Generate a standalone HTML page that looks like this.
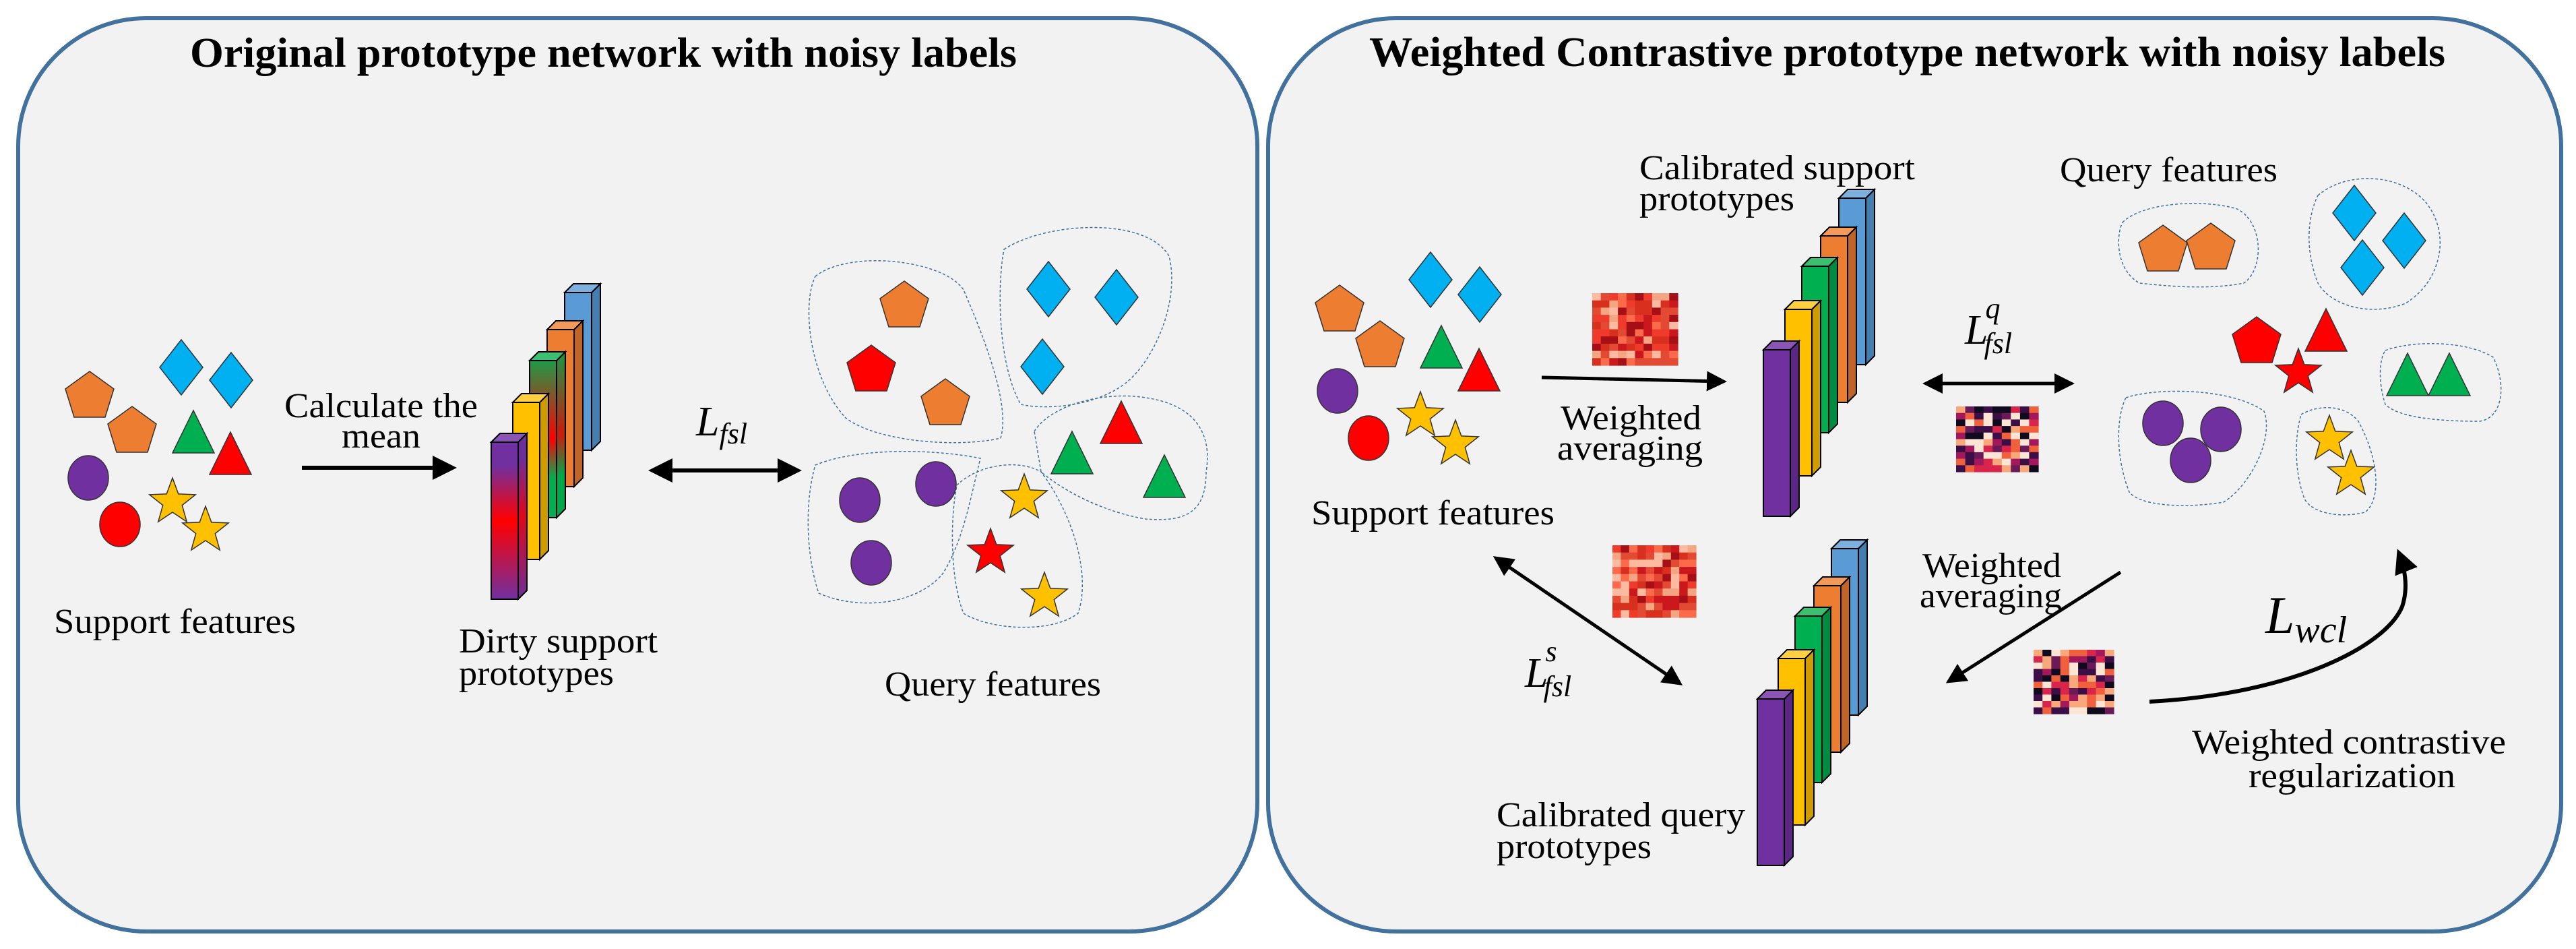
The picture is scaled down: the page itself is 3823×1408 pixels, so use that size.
<!DOCTYPE html>
<html><head><meta charset="utf-8"><style>
html,body{margin:0;padding:0;background:#fff;}
svg{display:block;}
svg text{font-family:"Liberation Serif","DejaVu Serif",serif !important;fill:#000;}
.lb{font-size:52px;}
.tt{font-size:62px;font-weight:bold;}
.mi{font-style:italic;}
</style></head><body>
<svg id="s" width="3823" height="1408" viewBox="0 0 3823 1408" xmlns="http://www.w3.org/2000/svg" font-family="Liberation Serif, serif">
<defs>
<polygon id="pent" points="0,-36 36,-10 23,32 -23,32 -36,-10" stroke="#333" stroke-width="1.5"/>
<polygon id="dia" points="0,-41 32,0 0,41 -32,0" stroke="#333" stroke-width="1.5"/>
<polygon id="tri" points="0,-34 31,29 -31,29" stroke="#333" stroke-width="1.5"/>
<ellipse id="ell" cx="0" cy="0" rx="30" ry="33" stroke="#333" stroke-width="1.5"/>
<polygon id="star" points="0,-36 8.8,-12.1 34.2,-11.1 14.3,4.6 21.2,29.1 0,15 -21.2,29.1 -14.3,4.6 -34.2,-11.1 -8.8,-12.1" stroke="#333" stroke-width="1.5"/>
<marker id="ah" markerWidth="6" markerHeight="6" refX="5" refY="3" orient="auto" markerUnits="strokeWidth"><path d="M0,0 L6,3 L0,6 z" fill="#000"/></marker>
<marker id="ahs" markerWidth="6" markerHeight="6" refX="1" refY="3" orient="auto" markerUnits="strokeWidth"><path d="M6,0 L0,3 L6,6 z" fill="#000"/></marker>
<linearGradient id="gp" x1="0" y1="0" x2="0" y2="1"><stop offset="0" stop-color="#7030A0"/><stop offset="0.15" stop-color="#7030A0"/><stop offset="0.5" stop-color="#FF0000"/><stop offset="1" stop-color="#7030A0"/></linearGradient>
<linearGradient id="gg" x1="0" y1="0" x2="0" y2="1"><stop offset="0" stop-color="#1e9a48"/><stop offset="0.5" stop-color="#FF0000"/><stop offset="0.75" stop-color="#00B050"/><stop offset="1" stop-color="#00B050"/></linearGradient>
</defs>
<rect x="27" y="27" width="1839" height="1355" rx="190" fill="#f2f2f2" stroke="#41719c" stroke-width="6"/>
<rect x="1882" y="27" width="1919" height="1355" rx="190" fill="#f2f2f2" stroke="#41719c" stroke-width="6"/>
<text class="tt" x="282" y="99" textLength="1227" lengthAdjust="spacingAndGlyphs">Original prototype network with noisy labels</text>
<text class="tt" x="2032" y="98" textLength="1597" lengthAdjust="spacingAndGlyphs">Weighted Contrastive prototype network with noisy labels</text>

<use href="#pent" x="133" y="587" fill="#ED7D31"/>
<use href="#pent" x="196" y="639" fill="#ED7D31"/>
<use href="#dia" x="269" y="545" fill="#00B0F0"/>
<use href="#dia" x="343" y="564" fill="#00B0F0"/>
<use href="#tri" x="287" y="643" fill="#00B050"/>
<use href="#tri" x="342" y="675" fill="#FF0000"/>
<use href="#ell" x="131" y="709" fill="#7030A0"/>
<use href="#ell" x="178" y="778" fill="#FF0000"/>
<use href="#star" x="256" y="745" fill="#FFC000"/>
<use href="#star" x="305" y="787" fill="#FFC000"/>
<text class="lb" x="80" y="939" textLength="359" lengthAdjust="spacingAndGlyphs">Support features</text>
<line x1="448" y1="694" x2="672" y2="694" stroke="#000" stroke-width="6" marker-end="url(#ah)"/>
<text class="lb" x="422" y="619" textLength="287" lengthAdjust="spacingAndGlyphs">Calculate the</text>
<text class="lb" x="507" y="664" textLength="117" lengthAdjust="spacingAndGlyphs">mean</text>
<g id="barsL"></g>
<text class="lb" x="681" y="968" textLength="295" lengthAdjust="spacingAndGlyphs">Dirty support</text>
<text class="lb" x="681" y="1016" textLength="230" lengthAdjust="spacingAndGlyphs">prototypes</text>
<line x1="968" y1="698" x2="1184" y2="698" stroke="#000" stroke-width="6" marker-start="url(#ahs)" marker-end="url(#ah)"/>
<text class="mi" x="1033" y="646" font-size="62">L<tspan font-size="44" dy="12">fsl</tspan></text>
<g fill="none" stroke="#41719c" stroke-width="1.5" stroke-dasharray="4,3">
<path d="M1210,410 C1260,370 1400,385 1430,430 C1460,500 1500,600 1485,650 C1420,665 1300,655 1255,620 C1200,560 1190,450 1210,410 Z"/>
<path d="M1490,370 C1550,330 1700,320 1735,380 C1750,440 1720,520 1680,560 C1640,600 1560,610 1515,600 C1480,540 1480,420 1490,370 Z"/>
<path d="M1535,640 C1560,600 1640,580 1700,590 C1770,600 1800,640 1790,700 C1790,760 1760,775 1700,770 C1640,760 1580,730 1545,700 Z"/>
<path d="M1210,690 C1270,665 1380,665 1455,680 C1440,740 1430,800 1400,850 C1360,900 1270,905 1215,880 C1195,820 1195,740 1210,690 Z"/>
<path d="M1420,720 C1450,690 1510,680 1545,700 C1590,760 1620,850 1600,910 C1560,940 1470,935 1430,910 C1410,860 1410,770 1420,720 Z"/>
</g>
<use href="#pent" x="1342" y="453" fill="#ED7D31"/>
<use href="#pent" x="1293" y="548" fill="#FF0000"/>
<use href="#pent" x="1403" y="598" fill="#ED7D31"/>
<use href="#dia" x="1556" y="429" fill="#00B0F0"/>
<use href="#dia" x="1657" y="441" fill="#00B0F0"/>
<use href="#dia" x="1547" y="544" fill="#00B0F0"/>
<use href="#tri" x="1664" y="629" fill="#FF0000"/>
<use href="#tri" x="1591" y="674" fill="#00B050"/>
<use href="#tri" x="1728" y="709" fill="#00B050"/>
<use href="#ell" x="1276" y="742" fill="#7030A0"/>
<use href="#ell" x="1389" y="718" fill="#7030A0"/>
<use href="#ell" x="1293" y="835" fill="#7030A0"/>
<use href="#star" x="1520" y="739" fill="#FFC000"/>
<use href="#star" x="1470" y="820" fill="#FF0000"/>
<use href="#star" x="1550" y="885" fill="#FFC000"/>
<text class="lb" x="1313" y="1032" textLength="321" lengthAdjust="spacingAndGlyphs">Query features</text>

<use href="#pent" x="1988" y="459" fill="#ED7D31"/>
<use href="#pent" x="2048" y="512" fill="#ED7D31"/>
<use href="#dia" x="2123" y="415" fill="#00B0F0"/>
<use href="#dia" x="2196" y="437" fill="#00B0F0"/>
<use href="#tri" x="2139" y="517" fill="#00B050"/>
<use href="#tri" x="2195" y="551" fill="#FF0000"/>
<use href="#ell" x="1985" y="580" fill="#7030A0"/>
<use href="#ell" x="2031" y="650" fill="#FF0000"/>
<use href="#star" x="2108" y="617" fill="#FFC000"/>
<use href="#star" x="2160" y="659" fill="#FFC000"/>
<text class="lb" x="1946" y="778" textLength="361" lengthAdjust="spacingAndGlyphs">Support features</text>
<line x1="2288" y1="560" x2="2558" y2="566" stroke="#000" stroke-width="5" marker-end="url(#ah)"/>
<g id="hm"></g>
<text class="lb" x="2316" y="637" textLength="209" lengthAdjust="spacingAndGlyphs">Weighted</text>
<text class="lb" x="2311" y="682" textLength="216" lengthAdjust="spacingAndGlyphs">averaging</text>
<g id="barsR"></g>
<text class="lb" x="2433" y="266" textLength="409" lengthAdjust="spacingAndGlyphs">Calibrated support</text>
<text class="lb" x="2433" y="312" textLength="230" lengthAdjust="spacingAndGlyphs">prototypes</text>
<line x1="2858" y1="569" x2="3074" y2="569" stroke="#000" stroke-width="5" marker-start="url(#ahs)" marker-end="url(#ah)"/>
<text class="mi" x="2916" y="510" font-size="62">L<tspan font-size="44" dy="-38" dx="-4">q</tspan><tspan font-size="44" dx="-24" dy="52">fsl</tspan></text>
<text class="lb" x="3057" y="269" textLength="323" lengthAdjust="spacingAndGlyphs">Query features</text>
<g fill="none" stroke="#41719c" stroke-width="1.5" stroke-dasharray="4,3">
<path d="M3150,330 C3180,300 3270,295 3320,310 C3360,330 3360,400 3330,420 C3280,430 3220,425 3175,420 C3140,400 3140,350 3150,330 Z"/>
<path d="M3440,290 C3480,255 3560,255 3600,300 C3640,350 3620,420 3570,450 C3520,470 3460,455 3440,420 C3420,370 3425,320 3440,290 Z"/>
<path d="M3540,520 C3580,505 3660,505 3700,530 C3720,570 3715,620 3680,625 C3620,625 3560,620 3540,600 C3530,570 3530,535 3540,520 Z"/>
<path d="M3155,590 C3200,575 3310,575 3360,610 C3375,650 3340,720 3300,745 C3240,755 3175,750 3160,730 C3140,680 3140,620 3155,590 Z"/>
<path d="M3415,615 C3440,600 3480,600 3500,625 C3530,680 3535,740 3510,760 C3470,770 3430,760 3420,740 C3405,700 3405,650 3415,615 Z"/>
</g>
<use href="#pent" x="3210" y="370" fill="#ED7D31"/>
<use href="#pent" x="3281" y="367" fill="#ED7D31"/>
<use href="#dia" x="3494" y="316" fill="#00B0F0"/>
<use href="#dia" x="3568" y="357" fill="#00B0F0"/>
<use href="#dia" x="3506" y="397" fill="#00B0F0"/>
<use href="#pent" x="3349" y="506" fill="#FF0000"/>
<use href="#tri" x="3452" y="492" fill="#FF0000"/>
<use href="#star" x="3411" y="553" fill="#FF0000"/>
<use href="#tri" x="3573" y="558" fill="#00B050"/>
<use href="#tri" x="3635" y="558" fill="#00B050"/>
<use href="#ell" x="3210" y="628" fill="#7030A0"/>
<use href="#ell" x="3296" y="637" fill="#7030A0"/>
<use href="#ell" x="3251" y="683" fill="#7030A0"/>
<use href="#star" x="3457" y="652" fill="#FFC000"/>
<use href="#star" x="3489" y="704" fill="#FFC000"/>

<line x1="2220" y1="828" x2="2493" y2="1014" stroke="#000" stroke-width="5" marker-start="url(#ahs)" marker-end="url(#ah)"/>
<text class="mi" x="2263" y="1019" font-size="62">L<tspan font-size="44" dy="-38" dx="-4">s</tspan><tspan font-size="44" dx="-20" dy="52">fsl</tspan></text>
<text class="lb" x="2221" y="1226" textLength="369" lengthAdjust="spacingAndGlyphs">Calibrated query</text>
<text class="lb" x="2221" y="1273" textLength="230" lengthAdjust="spacingAndGlyphs">prototypes</text>
<text class="lb" x="2853" y="856" textLength="206" lengthAdjust="spacingAndGlyphs">Weighted</text>
<text class="lb" x="2849" y="901" textLength="211" lengthAdjust="spacingAndGlyphs">averaging</text>
<line x1="3147" y1="849" x2="2892" y2="1011" stroke="#000" stroke-width="5" marker-end="url(#ah)"/>
<text class="mi" x="3362" y="939" font-size="78">L<tspan font-size="56" dy="14">wcl</tspan></text>
<path d="M3190,1041 C3400,1030 3540,960 3565,900 C3575,870 3568,840 3560,820" fill="none" stroke="#000" stroke-width="6" marker-end="url(#ah)"/>
<text class="lb" x="3253" y="1118" textLength="466" lengthAdjust="spacingAndGlyphs">Weighted contrastive</text>
<text class="lb" x="3337" y="1168" textLength="307" lengthAdjust="spacingAndGlyphs">regularization</text>
</svg>
<script>
(function(){
var NS="http://www.w3.org/2000/svg";
function el(p,t,a){var e=document.createElementNS(NS,t);for(var k in a)e.setAttribute(k,a[k]);p.appendChild(e);return e;}
var cols={p:["#7030A0","#8a55b5","#5a2785"],y:["#FFC000","#ffcf40","#cf9c00"],g:["#00B050","#3cbf70","#008c40"],o:["#ED7D31","#f19a5c","#c0652a"],b:["#5B9BD5","#7eb0df","#447fb0"]};
function bar(g,x,y,w,h,c,grad){var d=13;
el(g,"polygon",{points:(x+w)+","+y+" "+(x+w+d)+","+(y-d)+" "+(x+w+d)+","+(y+h-d)+" "+(x+w)+","+(y+h),fill:cols[c][2],stroke:"#000","stroke-width":2});
if(grad){el(g,"polygon",{points:(x+w)+","+y+" "+(x+w+d)+","+(y-d)+" "+(x+w+d)+","+(y+h-d)+" "+(x+w)+","+(y+h),fill:"url(#"+grad+")",opacity:0.8,stroke:"#000","stroke-width":2});}
el(g,"polygon",{points:x+","+y+" "+(x+d)+","+(y-d)+" "+(x+w+d)+","+(y-d)+" "+(x+w)+","+y,fill:cols[c][1],stroke:"#000","stroke-width":2});
el(g,"rect",{x:x,y:y,width:w,height:h,fill:grad?"url(#"+grad+")":cols[c][0],stroke:"#000","stroke-width":2});}
var L=document.getElementById("barsL");
bar(L,838,434,40,234,"b");bar(L,812,489,40,233,"o");bar(L,786,535,40,233,"g","gg");bar(L,761,597,40,233,"y");bar(L,729,656,40,233,"p","gp");
var R=document.getElementById("barsR");
function set(g,a){var c=["b","o","g","y","p"];for(var i=0;i<5;i++)bar(g,a[i][0],a[i][1],40,247,c[i]);}
set(R,[[2729,294],[2702,350],[2674,395],[2649,459],[2617,519]]);
set(R,[[2718,814],[2692,869],[2664,914],[2639,977],[2608,1037]]);
var seed=7;function rnd(){seed=(seed*16807)%2147483647;return seed/2147483647;}
var red=["#fcbba1","#fb6a4a","#ef3b2c","#cb181d","#a50f15","#d7301f","#f4a582","#e34a33"];
var mag=["#0f0a1e","#3b0f46","#6a1a56","#a3185c","#d9244c","#f1603d","#f8a87a","#fce5d5"];
var H=document.getElementById("hm");
function hm(x,y,w,h,pal,nc,nr){var cw=w/nc,ch=h/nr;for(var i=0;i<nr;i++)for(var j=0;j<nc;j++)el(H,"rect",{x:(x+j*cw).toFixed(1),y:(y+i*ch).toFixed(1),width:(cw+0.6).toFixed(1),height:(ch+0.6).toFixed(1),fill:pal[Math.floor(rnd()*pal.length)]});}
hm(2363,435,127,107,red,10,10);
hm(2903,603,122,97,mag,9,10);
hm(2393,809,124,107,red,10,10);
hm(3018,964,119,95,mag,9,10);
})();
</script>
</body></html>
